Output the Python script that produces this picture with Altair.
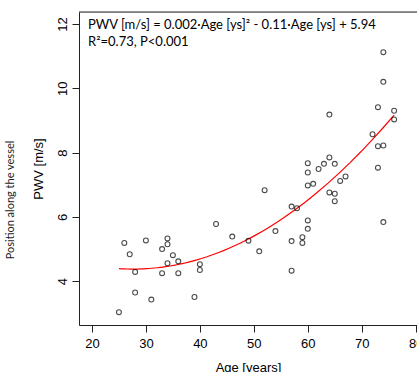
import altair as alt
import pandas as pd

# Data
age = [25, 26, 27, 28, 28, 30, 31, 33, 33, 34, 34, 34, 35, 36, 36, 39, 40, 40,
       43, 46, 49, 51, 52, 54, 57, 57, 57, 58, 59, 59, 60, 60, 60, 60, 60, 61,
       62, 63, 64, 64, 64, 65, 65, 65, 66, 67, 72, 73, 73, 73, 74, 74, 74, 74,
       76, 76]
pwv = [3.04, 5.19, 4.84, 4.29, 3.65, 5.27, 3.43, 5.00, 4.25, 5.33, 5.15, 4.56,
       4.81, 4.62, 4.25, 3.51, 4.53, 4.35, 5.78, 5.39, 5.26, 4.93, 6.83, 5.56,
       6.32, 5.25, 4.33, 6.27, 5.37, 5.19, 7.67, 7.38, 6.98, 5.89, 5.63, 7.03,
       7.49, 7.65, 7.85, 9.18, 6.76, 7.65, 6.72, 6.49, 7.12, 7.26, 8.57, 9.41,
       8.20, 7.53, 11.12, 10.20, 8.22, 5.84, 9.30, 9.03]

x_ticks = [20, 30, 40, 50, 60, 70, 80]
y_ticks = [4, 6, 8, 10, 12]
eq_line1 = "PWV [m/s] = 0.002·Age [ys]² - 0.11·Age [ys] + 5.94"
eq_line2 = "R²=0.73, P<0.001"
side_label = "Position along the vessel"

df = pd.DataFrame({"age": age, "pwv": pwv})

W, H = 338, 313
AX = "Liberation Sans"
TX = "Lato"

x_scale = alt.Scale(domain=[17.6, 80.24], nice=False, zero=False)
y_scale = alt.Scale(domain=[2.64, 12.37], nice=False, zero=False)

x_axis = alt.Axis(values=x_ticks, title="Age [years]", grid=False,
                  domain=True, domainColor="#222", tickColor="#222",
                  tickSize=7, labelFont=AX, labelFontSize=13, labelColor="#000",
                  labelPadding=5, labelFlush=False, labelOverlap=False,
                  titleFont=AX, titleFontSize=13, titleFontWeight="normal",
                  titleColor="#000", titleY=42, titleBaseline="middle")
y_axis = alt.Axis(values=y_ticks, title="PWV [m/s]", grid=False,
                  domain=True, domainColor="#222", tickColor="#222",
                  tickSize=7, labelFont=AX, labelFontSize=13, labelColor="#000",
                  labelAngle=270, labelAlign="center", labelBaseline="bottom",
                  labelPadding=3, labelFlush=False, labelOverlap=False,
                  titleFont=AX, titleFontSize=13, titleFontWeight="normal",
                  titleColor="#000", titleAngle=270, titleX=-41, titleY=H / 2,
                  titleAlign="center", titleBaseline="middle")

base = alt.Chart(df)

points = base.mark_point(shape="circle", filled=False, color="#000",
                         size=24, strokeWidth=1.1, clip=True).encode(
    x=alt.X("age:Q", scale=x_scale, axis=x_axis),
    y=alt.Y("pwv:Q", scale=y_scale, axis=y_axis),
)

curve = base.transform_regression(
    "age", "pwv", method="poly", order=2
).mark_line(color="#ff0000", strokeWidth=1.2, clip=True).encode(
    x=alt.X("age:Q", scale=x_scale),
    y=alt.Y("pwv:Q", scale=y_scale),
)

top_rule = alt.Chart(pd.DataFrame({"a": [0]})).mark_rule(
    color="#222", strokeWidth=1).encode(
    x=alt.value(0), x2=alt.value(W), y=alt.value(0))

txt = alt.Chart(pd.DataFrame({"t1": [eq_line1], "t2": [eq_line2], "s": [side_label]}))
eq1 = txt.mark_text(align="left", baseline="middle", font=TX, fontSize=13,
                    color="#000").encode(text="t1:N", x=alt.value(9), y=alt.value(13))
eq2 = txt.mark_text(align="left", baseline="middle", font=TX, fontSize=13,
                    color="#000").encode(text="t2:N", x=alt.value(9), y=alt.value(30))
side = txt.mark_text(align="center", baseline="middle", font=TX, fontSize=11,
                     angle=270, color="#222").encode(
    text="s:N", x=alt.value(-68), y=alt.value(188))

chart = alt.layer(curve, points, top_rule, eq1, eq2, side).properties(
    width=W, height=H,
    autosize=alt.AutoSizeParams(type="none"),
    padding={"left": 79, "top": 12, "right": 0, "bottom": 47},
).configure_view(stroke=None).configure(background="white")

chart.save("out.html", embed_options={"renderer": "svg", "actions": False})
